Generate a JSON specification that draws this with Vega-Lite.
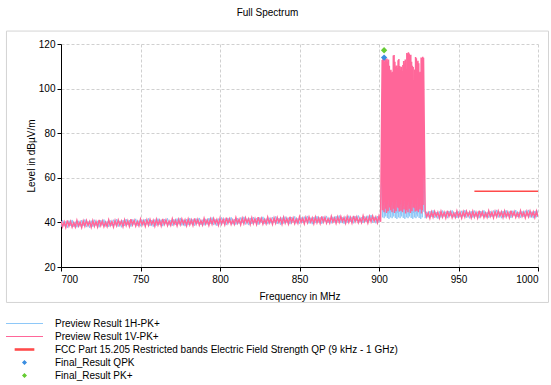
{
"$schema":"https://vega.github.io/schema/vega-lite/v6.json",
"width":477,"height":223,
"autosize":"none",
"padding":{"left":61,"top":44,"right":13,"bottom":118},
"config":{"font":"Liberation Sans","view":{"stroke":null},
 "title":{"fontSize":10,"fontWeight":"normal","color":"#000"}},
"title":{"text":"Full Spectrum","offset":13,"dx":-32},
"datasets":{"main":[
{"f":700,"v":40.6,"h":37.9},{"f":701,"v":38.1,"h":41.0},{"f":702,"v":40.2,"h":38.3},{"f":703,"v":37.8,"h":40.5},{"f":704,"v":40.9,"h":37.6},{"f":705,"v":38.4,"h":40.8},{"f":706,"v":40.4,"h":38.5},{"f":707,"v":37.9,"h":41.1},{"f":708,"v":39.9,"h":38.0},{"f":709,"v":38.0,"h":40.3},
{"f":710,"v":40.9,"h":37.8},{"f":711,"v":38.4,"h":40.7},{"f":712,"v":40.2,"h":38.2},{"f":713,"v":37.8,"h":41.0},{"f":714,"v":40.6,"h":38.5},{"f":715,"v":38.3,"h":41.3},{"f":716,"v":40.8,"h":37.9},{"f":717,"v":38.6,"h":40.5},{"f":718,"v":40.4,"h":37.6},{"f":719,"v":37.9,"h":40.8},
{"f":720,"v":40.8,"h":38.1},{"f":721,"v":38.3,"h":41.2},{"f":722,"v":40.4,"h":38.5},{"f":723,"v":38.0,"h":40.7},{"f":724,"v":41.1,"h":37.8},{"f":725,"v":38.6,"h":41.0},{"f":726,"v":40.6,"h":38.7},{"f":727,"v":38.1,"h":41.3},{"f":728,"v":40.1,"h":38.2},{"f":729,"v":38.2,"h":40.5},
{"f":730,"v":41.1,"h":38.0},{"f":731,"v":38.6,"h":40.9},{"f":732,"v":40.4,"h":38.4},{"f":733,"v":38.0,"h":41.2},{"f":734,"v":40.8,"h":38.7},{"f":735,"v":38.5,"h":41.5},{"f":736,"v":41.0,"h":38.1},{"f":737,"v":38.8,"h":40.7},{"f":738,"v":40.6,"h":37.8},{"f":739,"v":38.1,"h":41.0},
{"f":740,"v":41.1,"h":38.4},{"f":741,"v":38.6,"h":41.5},{"f":742,"v":40.7,"h":38.8},{"f":743,"v":38.3,"h":41.0},{"f":744,"v":41.4,"h":38.1},{"f":745,"v":38.9,"h":41.3},{"f":746,"v":40.9,"h":39.0},{"f":747,"v":38.4,"h":41.6},{"f":748,"v":40.4,"h":38.5},{"f":749,"v":38.5,"h":40.8},
{"f":750,"v":41.4,"h":38.3},{"f":751,"v":38.9,"h":41.2},{"f":752,"v":40.7,"h":38.7},{"f":753,"v":38.3,"h":41.5},{"f":754,"v":41.1,"h":39.0},{"f":755,"v":38.8,"h":41.8},{"f":756,"v":41.3,"h":38.4},{"f":757,"v":39.1,"h":41.0},{"f":758,"v":40.9,"h":38.1},{"f":759,"v":38.4,"h":41.3},
{"f":760,"v":41.3,"h":38.6},{"f":761,"v":38.8,"h":41.7},{"f":762,"v":40.9,"h":39.0},{"f":763,"v":38.5,"h":41.2},{"f":764,"v":41.6,"h":38.3},{"f":765,"v":39.1,"h":41.5},{"f":766,"v":41.1,"h":39.2},{"f":767,"v":38.6,"h":41.8},{"f":768,"v":40.6,"h":38.7},{"f":769,"v":38.7,"h":41.0},
{"f":770,"v":41.6,"h":38.5},{"f":771,"v":39.1,"h":41.4},{"f":772,"v":40.9,"h":38.9},{"f":773,"v":38.5,"h":41.7},{"f":774,"v":41.3,"h":39.2},{"f":775,"v":39.0,"h":42.0},{"f":776,"v":41.5,"h":38.6},{"f":777,"v":39.3,"h":41.2},{"f":778,"v":41.1,"h":38.3},{"f":779,"v":38.6,"h":41.5},
{"f":780,"v":41.5,"h":38.8},{"f":781,"v":39.0,"h":41.9},{"f":782,"v":41.1,"h":39.2},{"f":783,"v":38.7,"h":41.4},{"f":784,"v":41.8,"h":38.5},{"f":785,"v":39.3,"h":41.7},{"f":786,"v":41.3,"h":39.4},{"f":787,"v":38.8,"h":42.0},{"f":788,"v":40.8,"h":38.9},{"f":789,"v":38.9,"h":41.2},
{"f":790,"v":41.8,"h":38.7},{"f":791,"v":39.3,"h":41.6},{"f":792,"v":41.1,"h":39.1},{"f":793,"v":38.7,"h":41.9},{"f":794,"v":41.5,"h":39.4},{"f":795,"v":39.2,"h":42.2},{"f":796,"v":41.7,"h":38.8},{"f":797,"v":39.5,"h":41.4},{"f":798,"v":41.3,"h":38.5},{"f":799,"v":38.8,"h":41.7},
{"f":800,"v":41.8,"h":39.1},{"f":801,"v":39.3,"h":42.2},{"f":802,"v":41.4,"h":39.5},{"f":803,"v":39.0,"h":41.7},{"f":804,"v":42.1,"h":38.8},{"f":805,"v":39.6,"h":42.0},{"f":806,"v":41.6,"h":39.7},{"f":807,"v":39.1,"h":42.3},{"f":808,"v":41.1,"h":39.2},{"f":809,"v":39.2,"h":41.5},
{"f":810,"v":42.1,"h":39.0},{"f":811,"v":39.6,"h":41.9},{"f":812,"v":41.4,"h":39.4},{"f":813,"v":39.0,"h":42.2},{"f":814,"v":41.8,"h":39.7},{"f":815,"v":39.5,"h":42.5},{"f":816,"v":42.0,"h":39.1},{"f":817,"v":39.8,"h":41.7},{"f":818,"v":41.6,"h":38.8},{"f":819,"v":39.1,"h":42.0},
{"f":820,"v":42.0,"h":39.3},{"f":821,"v":39.5,"h":42.4},{"f":822,"v":41.6,"h":39.7},{"f":823,"v":39.2,"h":41.9},{"f":824,"v":42.3,"h":39.0},{"f":825,"v":39.8,"h":42.2},{"f":826,"v":41.8,"h":39.9},{"f":827,"v":39.3,"h":42.5},{"f":828,"v":41.3,"h":39.4},{"f":829,"v":39.4,"h":41.7},
{"f":830,"v":42.3,"h":39.2},{"f":831,"v":39.8,"h":42.1},{"f":832,"v":41.6,"h":39.6},{"f":833,"v":39.2,"h":42.4},{"f":834,"v":42.0,"h":39.9},{"f":835,"v":39.7,"h":42.7},{"f":836,"v":42.2,"h":39.3},{"f":837,"v":40.0,"h":41.9},{"f":838,"v":41.8,"h":39.0},{"f":839,"v":39.3,"h":42.2},
{"f":840,"v":42.2,"h":39.5},{"f":841,"v":39.7,"h":42.6},{"f":842,"v":41.8,"h":39.9},{"f":843,"v":39.4,"h":42.1},{"f":844,"v":42.5,"h":39.2},{"f":845,"v":40.0,"h":42.4},{"f":846,"v":42.0,"h":40.1},{"f":847,"v":39.5,"h":42.7},{"f":848,"v":41.5,"h":39.6},{"f":849,"v":39.6,"h":41.9},
{"f":850,"v":42.5,"h":39.4},{"f":851,"v":40.0,"h":42.3},{"f":852,"v":41.8,"h":39.8},{"f":853,"v":39.4,"h":42.6},{"f":854,"v":42.2,"h":40.1},{"f":855,"v":39.9,"h":42.9},{"f":856,"v":42.4,"h":39.5},{"f":857,"v":40.2,"h":42.1},{"f":858,"v":42.0,"h":39.2},{"f":859,"v":39.5,"h":42.4},
{"f":860,"v":42.4,"h":39.7},{"f":861,"v":39.9,"h":42.8},{"f":862,"v":42.0,"h":40.1},{"f":863,"v":39.6,"h":42.3},{"f":864,"v":42.7,"h":39.4},{"f":865,"v":40.2,"h":42.6},{"f":866,"v":42.2,"h":40.3},{"f":867,"v":39.7,"h":42.9},{"f":868,"v":41.7,"h":39.8},{"f":869,"v":39.8,"h":42.1},
{"f":870,"v":42.7,"h":39.6},{"f":871,"v":40.2,"h":42.5},{"f":872,"v":42.0,"h":40.0},{"f":873,"v":39.6,"h":42.8},{"f":874,"v":42.4,"h":40.3},{"f":875,"v":40.1,"h":43.1},{"f":876,"v":42.6,"h":39.7},{"f":877,"v":40.4,"h":42.3},{"f":878,"v":42.2,"h":39.4},{"f":879,"v":39.7,"h":42.6},
{"f":880,"v":42.6,"h":39.9},{"f":881,"v":40.1,"h":43.0},{"f":882,"v":42.2,"h":40.3},{"f":883,"v":39.8,"h":42.5},{"f":884,"v":42.9,"h":39.6},{"f":885,"v":40.4,"h":42.8},{"f":886,"v":42.4,"h":40.5},{"f":887,"v":39.9,"h":43.1},{"f":888,"v":41.9,"h":40.0},{"f":889,"v":40.0,"h":42.3},
{"f":890,"v":42.9,"h":39.8},{"f":891,"v":40.4,"h":42.7},{"f":892,"v":42.2,"h":40.2},{"f":893,"v":39.8,"h":43.0},{"f":894,"v":42.6,"h":40.5},{"f":895,"v":40.3,"h":43.3},{"f":896,"v":42.8,"h":39.9},{"f":897,"v":40.6,"h":42.5},{"f":898,"v":42.4,"h":39.6},{"f":899,"v":39.9,"h":42.8},
{"f":900,"v":42.8,"h":40.1},{"f":901,"v":40.3,"h":43.2},
{"f":902.0,"v":112.8,"h":68},{"f":902.25,"v":45.5,"h":42.3},{"f":902.5,"v":113.6,"h":57},{"f":902.75,"v":47.8,"h":44.8},
{"f":903.0,"v":113.2,"h":74},{"f":903.25,"v":44.6,"h":41.9},{"f":903.5,"v":111.9,"h":61},{"f":903.75,"v":49.2,"h":43.6},
{"f":904.0,"v":113.4,"h":52},{"f":904.25,"v":46.1,"h":42.7},{"f":904.5,"v":112.6,"h":79},{"f":904.75,"v":44.2,"h":45.1},
{"f":905.0,"v":113.5,"h":64},{"f":905.25,"v":48.5,"h":42.0},{"f":905.5,"v":112.2,"h":55},{"f":905.75,"v":45.0,"h":43.9},
{"f":906.0,"v":113.0,"h":71},{"f":906.25,"v":50.3,"h":41.6},{"f":906.5,"v":110.2,"h":59},{"f":906.75,"v":46.7,"h":44.2},
{"f":907.0,"v":107.8,"h":68},{"f":907.25,"v":45.5,"h":42.3},{"f":907.5,"v":108.4,"h":57},{"f":907.75,"v":47.8,"h":44.8},
{"f":908.0,"v":106.9,"h":74},{"f":908.25,"v":44.6,"h":41.9},{"f":908.5,"v":107.6,"h":61},{"f":908.75,"v":49.2,"h":43.6},
{"f":909.0,"v":114.8,"h":52},{"f":909.25,"v":46.1,"h":42.7},{"f":909.5,"v":115.1,"h":79},{"f":909.75,"v":44.2,"h":45.1},
{"f":910.0,"v":112.0,"h":64},{"f":910.25,"v":48.5,"h":42.0},{"f":910.5,"v":109.6,"h":55},{"f":910.75,"v":45.0,"h":43.9},
{"f":911.0,"v":110.4,"h":71},{"f":911.25,"v":50.3,"h":41.6},{"f":911.5,"v":109.2,"h":59},{"f":911.75,"v":46.7,"h":44.2},
{"f":912.0,"v":112.7,"h":68},{"f":912.25,"v":46.3,"h":42.3},{"f":912.5,"v":113.3,"h":57},{"f":912.75,"v":44.9,"h":44.8},
{"f":913.0,"v":110.1,"h":74},{"f":913.25,"v":48.1,"h":41.9},{"f":913.5,"v":108.5,"h":61},{"f":913.75,"v":45.2,"h":43.6},
{"f":914.0,"v":109.8,"h":52},{"f":914.25,"v":51.0,"h":42.7},{"f":914.5,"v":107.9,"h":79},{"f":914.75,"v":44.5,"h":45.1},
{"f":915.0,"v":110.6,"h":64},{"f":915.25,"v":47.3,"h":42.0},{"f":915.5,"v":112.4,"h":55},{"f":915.75,"v":45.8,"h":43.9},
{"f":916.0,"v":111.2,"h":71},{"f":916.25,"v":49.6,"h":41.6},{"f":916.5,"v":113.0,"h":59},{"f":916.75,"v":44.0,"h":44.2},
{"f":917.0,"v":104.5,"h":68},{"f":917.25,"v":45.5,"h":42.3},{"f":917.5,"v":116.0,"h":57},{"f":917.75,"v":47.8,"h":44.8},
{"f":918.0,"v":115.4,"h":74},{"f":918.25,"v":44.6,"h":41.9},{"f":918.5,"v":116.3,"h":61},{"f":918.75,"v":49.2,"h":43.6},
{"f":919.0,"v":115.7,"h":52},{"f":919.25,"v":46.1,"h":42.7},{"f":919.5,"v":114.8,"h":79},{"f":919.75,"v":44.2,"h":45.1},
{"f":920.0,"v":115.2,"h":64},{"f":920.25,"v":48.5,"h":42.0},{"f":920.5,"v":112.0,"h":55},{"f":920.75,"v":45.0,"h":43.9},
{"f":921.0,"v":110.3,"h":71},{"f":921.25,"v":50.3,"h":41.6},{"f":921.5,"v":109.7,"h":59},{"f":921.75,"v":46.7,"h":44.2},
{"f":922.0,"v":103.8,"h":68},{"f":922.25,"v":46.3,"h":42.3},{"f":922.5,"v":108.6,"h":57},{"f":922.75,"v":44.9,"h":44.8},
{"f":923.0,"v":114.2,"h":74},{"f":923.25,"v":48.1,"h":41.9},{"f":923.5,"v":113.6,"h":61},{"f":923.75,"v":45.2,"h":43.6},
{"f":924.0,"v":111.8,"h":52},{"f":924.25,"v":51.0,"h":42.7},{"f":924.5,"v":112.5,"h":79},{"f":924.75,"v":44.5,"h":45.1},
{"f":925.0,"v":111.4,"h":64},{"f":925.25,"v":47.3,"h":42.0},{"f":925.5,"v":106.9,"h":55},{"f":925.75,"v":45.8,"h":43.9},
{"f":926.0,"v":107.5,"h":71},{"f":926.25,"v":49.6,"h":41.6},{"f":926.5,"v":114.0,"h":59},{"f":926.75,"v":44.0,"h":44.2},
{"f":927.0,"v":113.6,"h":68},{"f":927.25,"v":45.5,"h":42.3},{"f":927.5,"v":114.3,"h":57},{"f":927.75,"v":47.8,"h":44.8},
{"f":928.0,"v":113.8,"h":74},
{"f":929,"v":45.0,"h":41.9},{"f":930,"v":42.5,"h":44.8},{"f":931,"v":44.3,"h":42.3},{"f":932,"v":41.9,"h":45.1},{"f":933,"v":44.7,"h":42.6},{"f":934,"v":42.4,"h":45.4},{"f":935,"v":44.9,"h":42.0},{"f":936,"v":42.7,"h":44.6},{"f":937,"v":44.5,"h":41.7},{"f":938,"v":42.0,"h":44.9},
{"f":939,"v":44.9,"h":42.2},{"f":940,"v":42.4,"h":45.3},{"f":941,"v":44.5,"h":42.6},{"f":942,"v":42.1,"h":44.8},{"f":943,"v":45.2,"h":41.9},{"f":944,"v":42.7,"h":45.1},{"f":945,"v":44.7,"h":42.8},{"f":946,"v":42.2,"h":45.4},{"f":947,"v":44.2,"h":42.3},{"f":948,"v":42.3,"h":44.6},
{"f":949,"v":45.1,"h":42.0},{"f":950,"v":42.6,"h":44.9},{"f":951,"v":44.4,"h":42.4},{"f":952,"v":42.0,"h":45.2},{"f":953,"v":44.8,"h":42.7},{"f":954,"v":42.5,"h":45.5},{"f":955,"v":45.0,"h":42.1},{"f":956,"v":42.8,"h":44.7},{"f":957,"v":44.6,"h":41.8},{"f":958,"v":42.1,"h":45.0},
{"f":959,"v":44.9,"h":42.2},{"f":960,"v":42.4,"h":45.3},{"f":961,"v":44.5,"h":42.6},{"f":962,"v":42.1,"h":44.8},{"f":963,"v":45.2,"h":41.9},{"f":964,"v":42.7,"h":45.1},{"f":965,"v":44.7,"h":42.8},{"f":966,"v":42.2,"h":45.4},{"f":967,"v":44.2,"h":42.3},{"f":968,"v":42.3,"h":44.6},
{"f":969,"v":45.2,"h":42.1},{"f":970,"v":42.7,"h":45.0},{"f":971,"v":44.5,"h":42.5},{"f":972,"v":42.1,"h":45.3},{"f":973,"v":44.9,"h":42.8},{"f":974,"v":42.6,"h":45.6},{"f":975,"v":45.1,"h":42.2},{"f":976,"v":42.9,"h":44.8},{"f":977,"v":44.7,"h":41.9},{"f":978,"v":42.2,"h":45.1},
{"f":979,"v":45.0,"h":42.3},{"f":980,"v":42.5,"h":45.4},{"f":981,"v":44.6,"h":42.7},{"f":982,"v":42.2,"h":44.9},{"f":983,"v":45.3,"h":42.0},{"f":984,"v":42.8,"h":45.2},{"f":985,"v":44.8,"h":42.9},{"f":986,"v":42.3,"h":45.5},{"f":987,"v":44.3,"h":42.4},{"f":988,"v":42.4,"h":44.7},
{"f":989,"v":45.2,"h":42.1},{"f":990,"v":42.7,"h":45.0},{"f":991,"v":44.5,"h":42.5},{"f":992,"v":42.1,"h":45.3},{"f":993,"v":44.9,"h":42.8},{"f":994,"v":42.6,"h":45.6},{"f":995,"v":45.1,"h":42.2},{"f":996,"v":42.9,"h":44.8},{"f":997,"v":44.7,"h":41.9},{"f":998,"v":42.2,"h":45.1},
{"f":999,"v":45.0,"h":42.3},{"f":1000,"v":42.5,"h":45.4}
]},
"layer":[
 {"data":{"values":[{}]},
  "mark":{"type":"rect","fill":null,"stroke":"#d4d4d4","strokeWidth":1},
  "encoding":{
   "x":{"datum":665.7,"type":"quantitative","scale":{"domain":[700,1000],"nice":false,"zero":false},
     "axis":{"values":[700,725,750,775,800,825,850,875,900,925,950,975,1000],"format":"d",
       "labelExpr":"datum.value % 50 === 0 ? datum.label : ''",
       "title":"Frequency in MHz","grid":true,"gridDash":[3,2],"gridColor":"#d0d0d0",
       "domainColor":"#000","tickColor":"#000","tickSize":4,"labelPadding":3,
       "labelFontSize":10,"labelColor":"#000","titleFontSize":10,"titleFontWeight":"normal","titleColor":"#000","titlePadding":7}},
   "x2":{"datum":1006.6},
   "y":{"datum":4.1,"type":"quantitative","scale":{"domain":[20,120],"nice":false,"zero":false},
     "axis":{"values":[20,30,40,50,60,70,80,90,100,110,120],
       "labelExpr":"datum.value % 20 === 0 ? datum.label : ''",
       "title":"Level in dBµV/m","grid":true,"gridDash":[3,2],"gridColor":"#d0d0d0",
       "domainColor":"#000","tickColor":"#000","tickSize":4,"labelPadding":2,
       "labelFontSize":10,"labelColor":"#000","titleFontSize":10,"titleFontWeight":"normal","titleColor":"#000","titlePadding":2}},
   "y2":{"datum":125.8}
  }},
 {"data":{"name":"main"},
  "mark":{"type":"line","strokeWidth":1,"clip":true},
  "encoding":{
   "x":{"field":"f","type":"quantitative"},
   "y":{"field":"h","type":"quantitative"},
   "color":{"datum":"Preview Result 1H-PK+","type":"nominal",
     "scale":{"domain":["Preview Result 1H-PK+","Preview Result 1V-PK+","FCC Part 15.205 Restricted bands Electric Field Strength QP (9 kHz - 1 GHz)","Final_Result QPK","Final_Result PK+"],
       "range":["#8ec8f8","#ff6699","#ff4a4a","#3b8ee0","#66cc33"]},
     "legend":{"title":null,"orient":"none","legendX":-56,"legendY":273,"direction":"vertical",
       "symbolType":"stroke","symbolSize":1369,"symbolStrokeWidth":1.2,"clipHeight":13,"rowPadding":0,"labelOffset":11,
       "labelFontSize":10,"labelColor":"#000","labelLimit":500,
       "encode":{"symbols":{"update":{
         "shape":[{"test":"indexof(datum.value,'Final')===0","value":"M0,-0.09L0.09,0L0,0.09L-0.09,0Z"},{"test":"indexof(datum.value,'FCC')===0","value":"M-0.5,-0.035H0.5V0.035H-0.5Z"},{"value":"stroke"}],
         "fill":[{"test":"indexof(datum.value,'Preview')===0","value":"transparent"},{"scale":"color","field":"value"}],
         "stroke":[{"test":"indexof(datum.value,'Preview')===0","scale":"color","field":"value"},{"value":"transparent"}],
         "opacity":{"value":1}
       }}}}}
  }},
 {"data":{"name":"main"},
  "mark":{"type":"line","strokeWidth":1.5,"clip":true},
  "encoding":{
   "x":{"field":"f","type":"quantitative"},
   "y":{"field":"v","type":"quantitative"},
   "color":{"datum":"Preview Result 1V-PK+","type":"nominal","legend":{"title":null}}
  }},
 {"data":{"values":[{"f":960,"l":54},{"f":1000,"l":54}]},
  "mark":{"type":"line","strokeWidth":1.5},
  "encoding":{
   "x":{"field":"f","type":"quantitative"},
   "y":{"field":"l","type":"quantitative"},
   "color":{"datum":"FCC Part 15.205 Restricted bands Electric Field Strength QP (9 kHz - 1 GHz)","type":"nominal","legend":{"title":null}}
  }},
 {"data":{"values":[{"f":903.2,"l":113.9,"s":"Final_Result QPK"},{"f":903.2,"l":117.2,"s":"Final_Result PK+"}]},
  "mark":{"type":"point","shape":"diamond","filled":true,"size":40,"opacity":1},
  "encoding":{
   "x":{"field":"f","type":"quantitative"},
   "y":{"field":"l","type":"quantitative"},
   "color":{"field":"s","type":"nominal","title":null,"legend":{"title":null}}
  }}
]
}
